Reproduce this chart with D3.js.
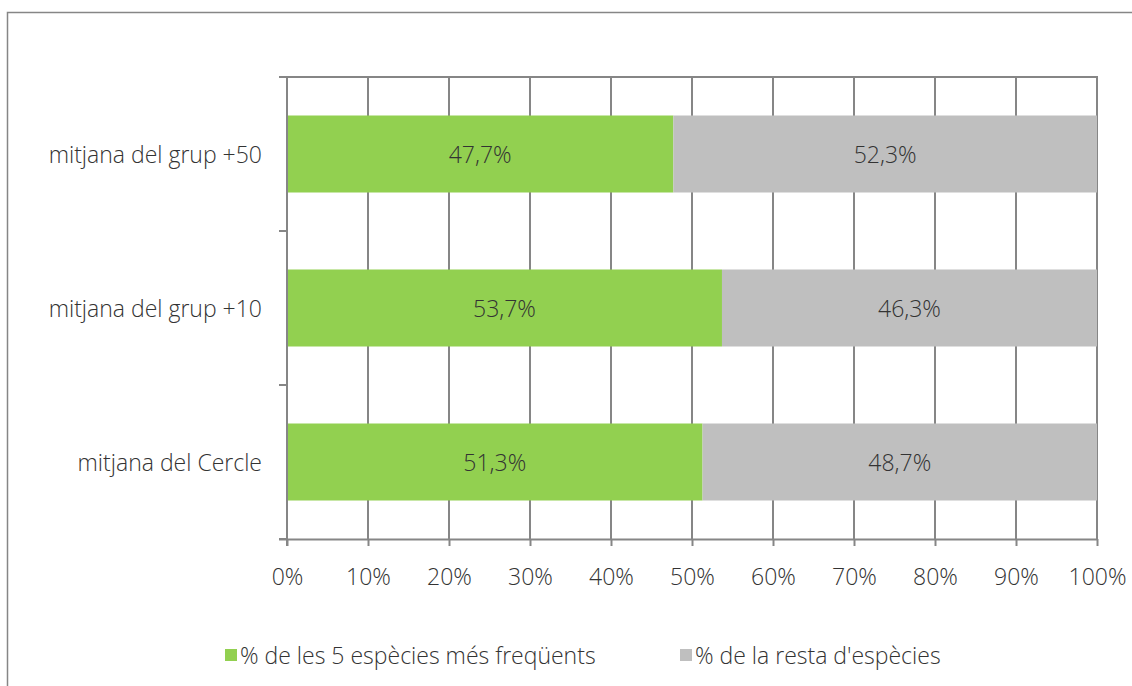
<!DOCTYPE html>
<html>
<head>
<meta charset="utf-8">
<script src="https://cdn.jsdelivr.net/npm/d3@7"></script>
<style>
  html, body { margin: 0; padding: 0; background: #fff; }
  svg text { font-family: "Open Sans", "Noto Sans", sans-serif; font-weight: 300; fill: #333333; }
</style>
</head>
<body>
<svg id="chart" width="1132" height="686"></svg>
<script>
// Share of the five most frequent species vs. the rest, per group
const categories = ["mitjana del grup +50", "mitjana del grup +10", "mitjana del Cercle"];
const topFive = [47.7, 53.7, 51.3];
const rest = [52.3, 46.3, 48.7];
const seriesNames = ["% de les 5 espècies més freqüents", "% de la resta d'espècies"];
const tickValues = [0, 10, 20, 30, 40, 50, 60, 70, 80, 90, 100];

const colors = ["#92D050", "#BFBFBF"];
const axisColor = "#868686";
const fontSize = 23;
const fmt = v => v.toFixed(1).replace(".", ",") + "%";

const svg = d3.select("#chart");

// outer chart frame
svg.append("rect")
  .attr("x", 7.5).attr("y", 12.5)
  .attr("width", 1140).attr("height", 700)
  .attr("fill", "none").attr("stroke", "#868686").attr("stroke-width", 1.5);

const plot = { left: 287, right: 1097, top: 77, bottom: 539 };

const x = d3.scaleLinear().domain([0, 100]).range([plot.left, plot.right]);
const y = d3.scaleBand().domain(categories).range([plot.top, plot.bottom]).paddingInner(0.5).paddingOuter(0.25);
const yBand = d3.scaleBand().domain(categories).range([plot.top, plot.bottom]);

const g = svg.append("g");

// vertical gridlines
g.selectAll("line.grid").data(tickValues).join("line")
  .attr("class", "grid")
  .attr("x1", d => x(d)).attr("x2", d => x(d))
  .attr("y1", plot.top).attr("y2", plot.bottom)
  .attr("stroke", axisColor).attr("stroke-width", 2);

// top border of the plot area
g.append("line")
  .attr("x1", plot.left - 8).attr("x2", plot.right + 1)
  .attr("y1", plot.top).attr("y2", plot.top)
  .attr("stroke", axisColor).attr("stroke-width", 2);

// stacked bars
const rows = categories.map((c, i) => ({ cat: c, vals: [topFive[i], rest[i]] }));
rows.forEach(r => {
  let acc = 0;
  r.vals.forEach((v, k) => {
    g.append("rect")
      .attr("x", x(acc))
      .attr("y", y(r.cat))
      .attr("width", x(acc + v) - x(acc))
      .attr("height", y.bandwidth())
      .attr("fill", colors[k]);
    g.append("text")
      .attr("x", x(acc + v / 2))
      .attr("y", y(r.cat) + y.bandwidth() / 2)
      .attr("text-anchor", "middle")
      .attr("dominant-baseline", "central")
      .attr("font-size", fontSize)
      .text(fmt(v));
    acc += v;
  });
});

// x axis
const xAxis = d3.axisBottom(x).tickValues(tickValues).tickFormat(d => d + "%").tickSize(7).tickPadding(23);
const xg = g.append("g").attr("transform", `translate(0,${plot.bottom})`).call(xAxis);
xg.select(".domain").attr("d", `M${plot.left - 8},0.5H${plot.right + 1}`).attr("stroke", axisColor).attr("stroke-width", 2);
xg.selectAll(".tick line").attr("stroke", axisColor).attr("stroke-width", 2);
xg.selectAll(".tick text").attr("font-size", fontSize).attr("fill", "#333333").attr("font-family", null);

// y axis: ticks at band boundaries, labels centred on bands
g.append("line")
  .attr("x1", plot.left).attr("x2", plot.left)
  .attr("y1", plot.top).attr("y2", plot.bottom + 7)
  .attr("stroke", axisColor).attr("stroke-width", 2);
const boundaries = categories.map(c => yBand(c)).concat([plot.bottom]);
g.selectAll("line.ytick").data(boundaries).join("line")
  .attr("class", "ytick")
  .attr("x1", plot.left - 8).attr("x2", plot.left)
  .attr("y1", d => d).attr("y2", d => d)
  .attr("stroke", axisColor).attr("stroke-width", 2);
g.selectAll("text.ylab").data(categories).join("text")
  .attr("class", "ylab")
  .attr("x", 262)
  .attr("y", d => y(d) + y.bandwidth() / 2)
  .attr("text-anchor", "end")
  .attr("dominant-baseline", "central")
  .attr("font-size", fontSize)
  .text(d => d);

// legend
const legendX = [225, 680];
const lg = svg.append("g");
seriesNames.forEach((name, i) => {
  lg.append("rect")
    .attr("x", legendX[i]).attr("y", 649)
    .attr("width", 12).attr("height", 12)
    .attr("fill", colors[i]);
  lg.append("text")
    .attr("x", legendX[i] + 15).attr("y", 655)
    .attr("dominant-baseline", "central")
    .attr("font-size", fontSize)
    .text(name);
});
</script>
</body>
</html>
